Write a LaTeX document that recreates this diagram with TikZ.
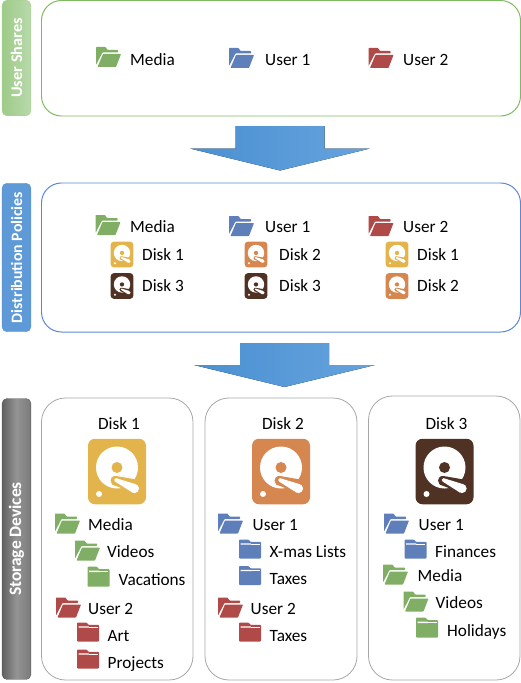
\documentclass[tikz,border=0pt]{standalone}
\usepackage{fontspec}
\setmainfont{Carlito}
\usepackage{tikz}
\definecolor{foldergreen}{HTML}{7FAE64}
\definecolor{folderblue}{HTML}{5F7FBB}
\definecolor{folderred}{HTML}{B04A48}
\definecolor{diskyellow}{HTML}{E3B44B}
\definecolor{diskorange}{HTML}{D6864F}
\definecolor{diskbrown}{HTML}{4F3224}
\definecolor{arrowdark}{HTML}{4A90D2}
\definecolor{arrowlight}{HTML}{66A3DD}
\definecolor{tabgreentop}{HTML}{B9D9AC}
\definecolor{tabgreenbottom}{HTML}{9DCB88}
\definecolor{tabgreenline}{HTML}{A9D18E}
\definecolor{tabblue}{HTML}{5F9AD8}
\definecolor{tabblueline}{HTML}{5A8CC8}
\definecolor{panelgreen}{HTML}{7DBB5F}
\definecolor{panelblue}{HTML}{5C86D8}
\tikzset{label/.style = {anchor=base west, inner sep=0pt, yshift=-0.7pt, font=\fontsize{17.3}{20}\selectfont},
         title/.style = {anchor=base, inner sep=0pt, yshift=-0.7pt, font=\fontsize{17.3}{20}\selectfont},
         tab/.style = {rotate=90, rounded corners=5, minimum height=29, inner sep=0pt, text=white},
         panel/.style = {rounded corners=20, line width=1},
         diskpanel/.style = {rounded corners=24, line width=0.8, draw=black!35},
         bigarrow/.style = {left color=arrowdark, right color=arrowlight, draw=none},
         pics/openfolder/.style = {code = {
           \fill [#1, rounded corners=0.6] (-12.5, -10) -- (-3, -10) -- (-1, -7) -- (9.5, -7)
             -- (9.5, -4.5) -- (-6, -4.5) -- (-12.5, 8) -- cycle;
           \fill [#1, rounded corners=0.6] (-11, 10) -- (-5.5, -3) -- (12.5, -3) -- (7.5, 10) -- cycle;
         }},
         pics/closedfolder/.style = {code = {
           \fill [#1, rounded corners=0.8] (-11, -10) -- (-1.5, -10) -- (0.5, -7.5) -- (11, -7.5)
             -- (11, 10) -- (-11, 10) -- cycle;
           \fill [white] (-9.5, -6) -- (0.5, -6) -- (1.5, -4.5) -- (-9.5, -4.5) -- cycle;
           \fill [white] (0.5, -5.6) -- (9.5, -5.6) -- (9.5, -5) -- (0.5, -5) -- cycle;
         }},
         pics/diskicon/.style 2 args = {code = {
           \fill [#1, rounded corners=#2] (-29, -32.75) rectangle (29, 32.75);
           \fill [white] (0, -4) circle (21);
           \fill [#1] (0, -4) circle (5.5);
           \fill [#1] (-2, 9) circle (4.5);
           \fill [#1] (-4, 5) -- (-1, 4.5) -- (22, 8.5) -- (24, 24) -- (-5, 13) -- cycle;
           \fill [white] (-1, 8.5) circle (1.8);
           \fill [white] (17.5, 17) circle (4.6);
           \fill [white] (-0.5, 6.8) -- (19, 12.8) -- (15.5, 21.1) -- (-2, 10) -- cycle;
           \fill [white] (-18, 22.5) circle (3);
         }}}
\begin{document}
\begin{tikzpicture}[x=1bp, y=-1bp]
      \useasboundingbox (0, 0) rectangle (521, 683);

      \node [tab, left color=tabgreenbottom, right color=tabgreentop, draw=tabgreenline,
             font=\bfseries\fontsize{16.3}{20}\selectfont,
             minimum width=116] (sharestab) at (16.5, 58) {User Shares};
      \node [tab, fill=tabblue, draw=tabblueline,
             font=\bfseries\fontsize{15.9}{20}\selectfont,
             minimum width=149] (policiestab) at (16.5, 257.5) {Distribution Policies};
      \node [tab, left color=black!62, right color=black!52, middle color=black!42, draw=black!65,
             font=\bfseries\fontsize{17.5}{20}\selectfont,
             minimum width=282] (devicestab) at (16.5, 539) {Storage Devices};

      \draw [panel, draw=panelgreen] (41.5, 0.5) rectangle (520.5, 116);
      \draw [panel, draw=panelblue] (41.5, 183) rectangle (520.5, 332);
      \draw [diskpanel] (41.5, 398) rectangle (193, 680);
      \draw [diskpanel] (205, 398) rectangle (357, 680);
      \draw [diskpanel] (368.5, 396) rectangle (520, 680);

      \fill [bigarrow] (235.5, 126) -- (324.5, 126) -- (324.5, 148.5) -- (370, 148.5)
        -- (280, 170.5) -- (190, 148.5) -- (235.5, 148.5) -- cycle;
      \fill [bigarrow] (240, 343) -- (329, 343) -- (329, 365) -- (375, 365)
        -- (284.5, 387) -- (194, 365) -- (240, 365) -- cycle;

      \pic at (108.5, 57) {openfolder=foldergreen};
      \node [label] (sharemedia) at (130, 64.5) {Media};
      \pic at (241.5, 58) {openfolder=folderblue};
      \node [label] (shareuserone) at (265, 64.5) {User 1};
      \pic at (381, 58) {openfolder=folderred};
      \node [label] (shareusertwo) at (403, 64.5) {User 2};

      \pic at (108, 225) {openfolder=foldergreen};
      \node [label] (policymedia) at (130, 231.5) {Media};
      \pic at (122, 254.5) [scale=0.39] {diskicon={diskyellow}{3}};
      \node [label] (policymediaa) at (142, 259.5) {Disk 1};
      \pic at (122, 286) [scale=0.39] {diskicon={diskbrown}{3}};
      \node [label] (policymediab) at (142, 291) {Disk 3};

      \pic at (241.5, 226) {openfolder=folderblue};
      \node [label] (policyuserone) at (265, 231.5) {User 1};
      \pic at (256, 254.5) [scale=0.39] {diskicon={diskorange}{3}};
      \node [label] (policyuseronea) at (279, 259.5) {Disk 2};
      \pic at (256, 286) [scale=0.39] {diskicon={diskbrown}{3}};
      \node [label] (policyuseroneb) at (279, 291) {Disk 3};

      \pic at (381, 226) {openfolder=folderred};
      \node [label] (policyusertwo) at (403, 231.5) {User 2};
      \pic at (397, 254.5) [scale=0.39] {diskicon={diskyellow}{3}};
      \node [label] (policyusertwoa) at (417, 259.5) {Disk 1};
      \pic at (397, 286) [scale=0.39] {diskicon={diskorange}{3}};
      \node [label] (policyusertwob) at (417, 291) {Disk 2};

      \node [title] (diskone) at (119, 429) {Disk 1};
      \pic at (117, 471.5) {diskicon={diskyellow}{7}};
      \pic at (67.5, 523.5) {openfolder=foldergreen};
      \node [label] (aamedia) at (88, 530) {Media};
      \pic at (87.5, 550.5) {openfolder=foldergreen};
      \node [label] (aavideos) at (107, 556.5) {Videos};
      \pic at (98.5, 576.7) {closedfolder=foldergreen};
      \node [label] (aavacations) at (118.5, 584.5) {Vacations};
      \pic at (68.5, 607.5) {openfolder=folderred};
      \node [label] (aauser) at (88, 613.5) {User 2};
      \pic at (88, 632) [yscale=0.95] {closedfolder=folderred};
      \node [label] (aaart) at (107.5, 640.5) {Art};
      \pic at (88, 659) [yscale=0.95] {closedfolder=folderred};
      \node [label] (aaprojects) at (107.5, 667.5) {Projects};

      \node [title] (disktwo) at (283, 429) {Disk 2};
      \pic at (281, 471.5) {diskicon={diskorange}{7}};
      \pic at (230.5, 523.5) {openfolder=folderblue};
      \node [label] (bbuserone) at (252.5, 530) {User 1};
      \pic at (250, 549) [yscale=0.95] {closedfolder=folderblue};
      \node [label] (bbxmas) at (269.5, 556.5) {X-mas Lists};
      \pic at (250, 575.5) [yscale=0.95] {closedfolder=folderblue};
      \node [label] (bbtaxes) at (269.5, 584) {Taxes};
      \pic at (230.5, 607.5) {openfolder=folderred};
      \node [label] (bbusertwo) at (250.5, 613.5) {User 2};
      \pic at (250, 632) [yscale=0.95] {closedfolder=folderred};
      \node [label] (bbtaxestwo) at (269.5, 640.5) {Taxes};

      \node [title] (diskthree) at (446.5, 429) {Disk 3};
      \pic at (444.5, 471.5) {diskicon={diskbrown}{7}};
      \pic at (396.5, 523.5) {openfolder=folderblue};
      \node [label] (ccuser) at (418.5, 530) {User 1};
      \pic at (415.5, 549) [yscale=0.95] {closedfolder=folderblue};
      \node [label] (ccfinances) at (435, 556.5) {Finances};
      \pic at (395.5, 574.5) {openfolder=foldergreen};
      \node [label] (ccmedia) at (417.5, 581) {Media};
      \pic at (416, 601.5) {openfolder=foldergreen};
      \node [label] (ccvideos) at (435.5, 607.5) {Videos};
      \pic at (427, 627.5) {closedfolder=foldergreen};
      \node [label] (ccholidays) at (447, 635.5) {Holidays};
    \end{tikzpicture}
\end{document}
